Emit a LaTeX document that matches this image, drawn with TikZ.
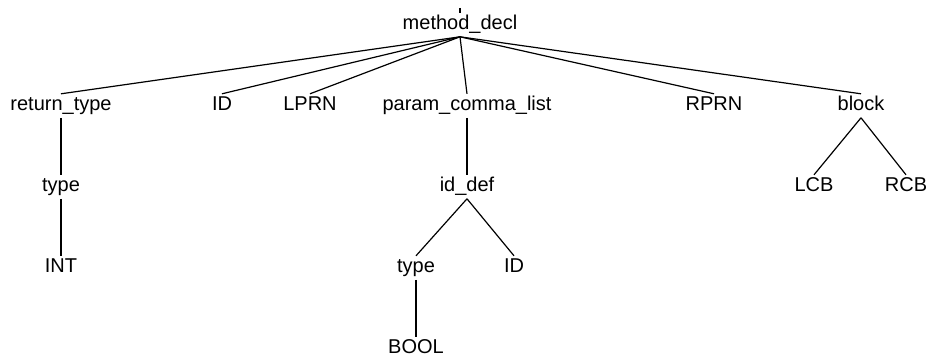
\documentclass[tikz,border=0pt]{standalone}
\usepackage{fontspec}
\setmainfont{Liberation Sans}
\tikzset{
  tok/.style={anchor=base, inner sep=1.2pt, text height=7.2pt, text depth=2pt,
    font=\fontsize{10}{12}\selectfont},
  branch/.style={line width=0.6pt}
}
\begin{document}
\begin{tikzpicture}[x=0.5pt,y=-0.5pt]
\useasboundingbox (0,0) rectangle (928,358);
% symbols of the parse tree, one row per level
\foreach \nm/\xx/\yy/\lab in {
  md/460/30/method\_decl,
  rtype/61/111/return\_type, id1/222/111/ID, lprn/310/111/LPRN,
  pcl/467/111/param\_comma\_list, rprn/714/111/RPRN, blk/861/111/block,
  type1/61/192/type, iddef/467/192/id\_def, lcb/814/192/LCB, rcb/906/192/RCB,
  int/61/273/INT, type2/416/273/type, id2/514/273/ID,
  bool/416/354/BOOL}{
  \node[tok] (\nm) at (\xx,\yy) {\lab};
}
% branches
\foreach \a/\b in {md/rtype,md/id1,md/lprn,md/pcl,md/rprn,md/blk,
  rtype/type1,type1/int,pcl/iddef,iddef/type2,iddef/id2,type2/bool,
  blk/lcb,blk/rcb}{
  \draw[branch] (\a.south) -- (\b.north);
}
\coordinate (stub) at (460,8);
\draw[branch] (stub) -- (md.north);
\end{tikzpicture}
\end{document}
